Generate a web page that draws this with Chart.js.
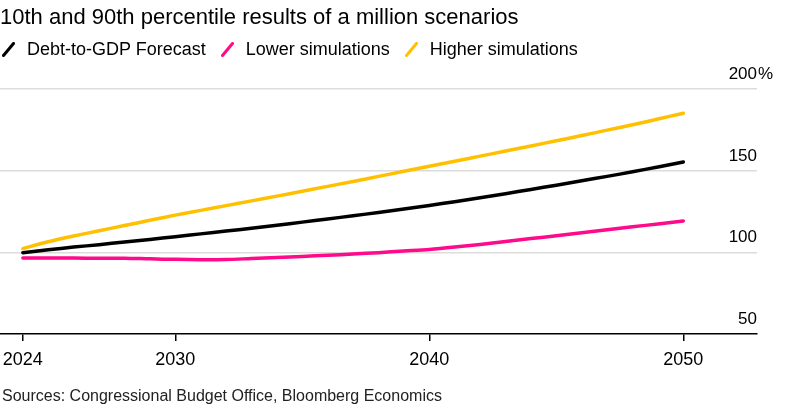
<!DOCTYPE html>
<html>
<head>
<meta charset="utf-8">
<script src="https://cdn.jsdelivr.net/npm/chart.js@4.4.0/dist/chart.umd.min.js"></script>
<style>
  html, body { margin: 0; padding: 0; background: #fff; }
  #wrap { position: relative; width: 785px; height: 412px; overflow: hidden; font-family: "Liberation Sans", Arial, sans-serif; color: #000; }
  #title { position: absolute; left: 0; top: 6px; font-size: 22px; line-height: 22px; white-space: nowrap; }
  #legend { position: absolute; left: 2px; top: 40px; font-size: 18px; line-height: 18px; height: 18px; white-space: nowrap; display: flex; align-items: center; }
  .item { display: flex; align-items: center; margin-right: 15px; }
  .item svg { margin-right: 12px; }
  #source { position: absolute; left: 2px; top: 388px; font-size: 16px; line-height: 16px; color: #222; white-space: nowrap; }
  #chartBox { position: absolute; left: 0; top: 0; width: 785px; height: 412px; }
</style>
</head>
<body>
<div id="wrap">
  <div id="chartBox"><canvas id="c" width="785" height="412"></canvas></div>
  <div id="title">10th and 90th percentile results of a million scenarios</div>
  <div id="legend">
    <span class="item"><svg width="13" height="15"><line x1="1.5" y1="13.5" x2="11.5" y2="1.5" stroke="#000" stroke-width="3" stroke-linecap="round"/></svg>Debt-to-GDP Forecast</span>
    <span class="item"><svg width="13" height="15"><line x1="1.5" y1="13.5" x2="11.5" y2="1.5" stroke="#FF0A8A" stroke-width="3" stroke-linecap="round"/></svg>Lower simulations</span>
    <span class="item"><svg width="13" height="15"><line x1="1.5" y1="13.5" x2="11.5" y2="1.5" stroke="#FFC000" stroke-width="3" stroke-linecap="round"/></svg>Higher simulations</span>
  </div>
  <div id="source">Sources: Congressional Budget Office, Bloomberg Economics</div>
</div>
<script>
const years = [2024,2025,2026,2027,2028,2029,2030,2031,2032,2033,2034,2035,2036,2037,2038,2039,2040,2041,2042,2043,2044,2045,2046,2047,2048,2049,2050];
const forecast = [99.8,101.6,103.2,104.7,106.3,107.9,109.6,111.3,113.0,114.8,116.6,118.5,120.4,122.4,124.4,126.5,128.7,131.0,133.4,135.9,138.5,141.1,143.8,146.5,149.3,152.3,155.3];
const lower = [96.5,96.6,96.5,96.4,96.4,96.0,95.7,95.5,95.6,96.2,96.8,97.5,98.2,99.0,99.8,100.8,101.8,103.2,104.8,106.6,108.4,110.2,112.0,113.8,115.6,117.4,119.2];
const higher = [102.3,106.5,110.0,113.2,116.4,119.6,122.8,125.7,128.6,131.5,134.4,137.4,140.4,143.4,146.5,149.6,152.7,155.8,158.9,162.0,165.1,168.3,171.5,174.8,178.1,181.6,185.2];
const xTicks = [2024,2030,2040,2050];
const yTicks = [50,100,150,200];

function pts(arr){ return years.map((y,i)=>({x:y, y:arr[i]})); }

const yLabelPlugin = {
  id: 'yLabels',
  afterDraw(chart){
    const ctx = chart.ctx, ys = chart.scales.y, right = chart.chartArea.right;
    ctx.save();
    ctx.font = '17px "Liberation Sans", Arial, sans-serif';
    ctx.fillStyle = '#000';
    ctx.textBaseline = 'alphabetic';
    yTicks.forEach(v=>{
      const py = ys.getPixelForValue(v);
      ctx.textAlign = 'right';
      ctx.fillText(String(v), right, py - 10);
      if (v === 200) { ctx.textAlign = 'left'; ctx.fillText('%', right + 1, py - 10); }
    });
    ctx.restore();
  }
};

new Chart(document.getElementById('c'), {
  type: 'line',
  data: {
    datasets: [
      { label: 'Higher simulations', data: pts(higher), borderColor: '#FFC000', borderWidth: 3.5 },
      { label: 'Lower simulations', data: pts(lower), borderColor: '#FF0A8A', borderWidth: 3.5 },
      { label: 'Debt-to-GDP Forecast', data: pts(forecast), borderColor: '#000', borderWidth: 3.5 }
    ]
  },
  options: {
    responsive: false,
    animation: false,
    devicePixelRatio: 1,
    layout: { padding: { top: 89, right: 28, left: 0, bottom: 0 } },
    elements: { point: { radius: 0 }, line: { tension: 0.3, borderCapStyle: 'round', borderJoinStyle: 'round' } },
    plugins: { legend: { display: false }, title: { display: false }, tooltip: { enabled: false } },
    scales: {
      x: {
        type: 'linear', min: 2023.1, max: 2052.9,
        afterBuildTicks(s){ s.ticks = xTicks.map(v=>({value:v})); },
        afterFit(s){ s.height = 412 - 334; s.paddingLeft = 0; s.paddingRight = 0; },
        border: { display: true, color: '#000', width: 1.5 },
        grid: { drawOnChartArea: false, drawTicks: true, tickLength: 7, color: '#000', lineWidth: 1.5 },
        ticks: { font: { size: 18, family: '"Liberation Sans", Arial, sans-serif' }, color: '#000', padding: 8, maxRotation: 0, callback: v => String(v) }
      },
      y: {
        position: 'right', min: 50, max: 200,
        afterBuildTicks(s){ s.ticks = yTicks.map(v=>({value:v})); },
        afterFit(s){ s.width = 0; s.paddingTop = 0; s.paddingBottom = 0; },
        border: { display: false },
        grid: { drawTicks: false, color: ctx => (ctx.tick && ctx.tick.value === 50) ? 'rgba(0,0,0,0)' : '#dcdcdc', lineWidth: 1.5 },
        ticks: { display: false }
      }
    }
  },
  plugins: [yLabelPlugin]
});
</script>
</body>
</html>
